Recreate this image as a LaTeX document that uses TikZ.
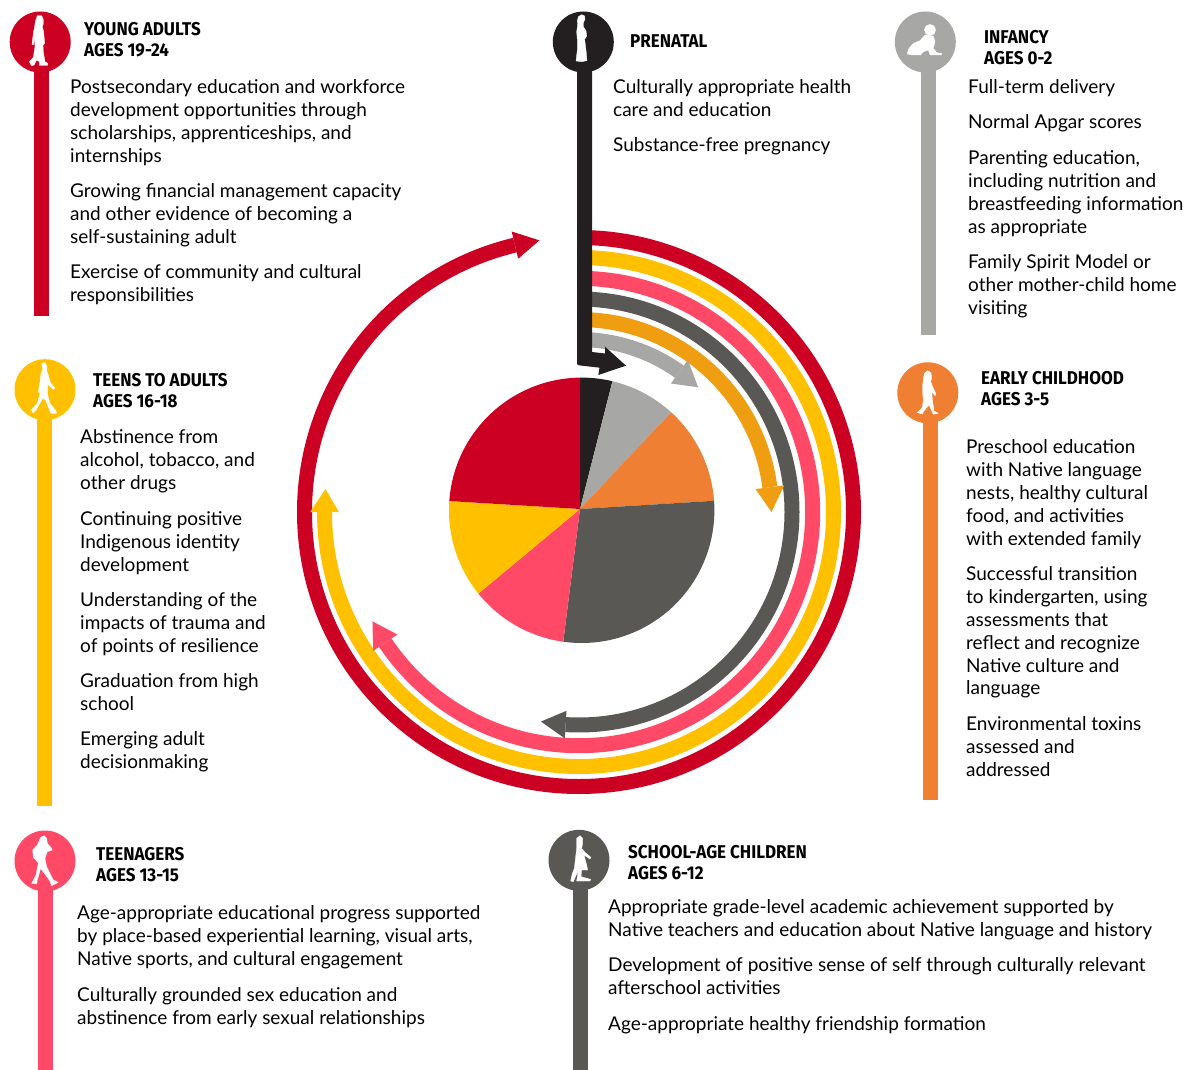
\documentclass[tikz,border=0pt]{standalone}
\usepackage{fontspec}
\setmainfont{Lato}
\newfontfamily\bodyf{Lato}
\newfontfamily\headf[FakeStretch=0.92]{Fira Sans Bold}
\definecolor{cred}{HTML}{CC0022}
\definecolor{cblack}{HTML}{231F20}
\definecolor{cgray}{HTML}{A7A7A5}
\definecolor{corange}{HTML}{EE7F33}
\definecolor{cdark}{HTML}{595855}
\definecolor{camber}{HTML}{EF9E12}
\definecolor{cyellow}{HTML}{FFC000}
\definecolor{cpink}{HTML}{FF4966}
\tikzset{
  bodyt/.style={anchor=north west,inner sep=0pt,align=left,font=\bodyf\fontsize{19}{22.8}\selectfont,text=black},
  headt/.style={anchor=north west,inner sep=0pt,align=left,font=\headf\fontsize{18.5}{21}\selectfont,text=black},
  pincircle/.style={circle,fill=#1,inner sep=0pt,minimum size=61pt},
  stem/.style={draw=#1,line width=15pt},
  silh/.style={fill=white,draw=white,line width=0.3pt,line join=round},
}
\newcommand\bodyat[4]{\node[bodyt] (#1) at (#2,{-(#3-9.2)}) {\strut #4};}
\newcommand\headat[4]{\node[headt] (#1) at (#2,{-(#3-8.5)}) {\rule{0pt}{15pt}#4};}
\newcommand\ringarrow[6]{%
  \draw[#1,line width=15pt] ([shift={(#3:#2)}]c) arc[start angle=#3,end angle=#4,radius=#2];
  \fill[#1] ([shift={(#4:#2+#6)}]c) -- ([shift={(#5:#2)}]c) -- ([shift={(#4:#2-#6)}]c) -- cycle;
}
\newcommand\pieslice[3]{\fill[#1] (pa) -- ([shift={(#2:132.7)}]pc) arc[start angle=#2,end angle=#3,radius=132.7] -- cycle;}
\begin{document}
\begin{tikzpicture}[x=1pt,y=1pt]
\useasboundingbox (0,0) rectangle (1184,-1070);
\coordinate (c) at (579,-512);
\coordinate (pc) at (581.7,-510.3);
\coordinate (pa) at (580,-509);
% rings
\ringarrow{cred}{274.5}{90}{-256.5}{-261.7}{14}
\ringarrow{cyellow}{254.5}{90}{-180}{-185.2}{14.3}
\ringarrow{cpink}{233.7}{90}{-146}{-152.1}{14.6}
\ringarrow{cdark}{213}{90}{-93.6}{-100.3}{13.8}
\ringarrow{camber}{192.5}{90}{7.4}{0}{14.5}
\ringarrow{cgray}{172.5}{90}{54.4}{46.3}{14.5}
% pie
\pieslice{cblack}{90.7}{76.6}
\pieslice{cgray}{76.6}{47.6}
\pieslice{corange}{47.6}{4.1}
\pieslice{cdark}{4.1}{-98}
\pieslice{cpink}{-98}{-141.1}
\pieslice{cyellow}{-141.1}{-184}
\pieslice{cred}{-184}{-269.3}
% stems
\coordinate (redTop) at (41.3,-42); \coordinate (redEnd) at (41.3,-316);
\coordinate (grayTop) at (928.3,-42); \coordinate (grayEnd) at (928.3,-335);
\coordinate (yelTop) at (44.5,-390); \coordinate (yelEnd) at (44.5,-806);
\coordinate (oraTop) at (930.5,-393); \coordinate (oraEnd) at (930.5,-800);
\coordinate (pnkTop) at (45.5,-861); \coordinate (pnkEnd) at (45.5,-1070);
\coordinate (drkTop) at (580.5,-860); \coordinate (drkEnd) at (580.5,-1070);
\draw[stem=cred] (redTop) -- (redEnd);
\draw[stem=cgray] (grayTop) -- (grayEnd);
\draw[stem=cyellow] (yelTop) -- (yelEnd);
\draw[stem=corange] (oraTop) -- (oraEnd);
\draw[stem=cpink] (pnkTop) -- (pnkEnd);
\draw[stem=cdark] (drkTop) -- (drkEnd);
\fill[cblack] (577,-42) -- (592,-42) -- (592,-352) -- (605,-353.5) -- (605,-346.7) -- (626,-365.7) -- (598.3,-375) -- (599.5,-367.7) -- (578.7,-365.3) -- (577,-364) -- cycle;
% pins
\node[pincircle=cred] (pinRed) at (40.2,-42) {};
\node[pincircle=cblack] (pinBlack) at (583.3,-42) {};
\node[pincircle=cgray] (pinGray) at (925.3,-42) {};
\node[pincircle=cyellow] (pinYellow) at (45,-389.7) {};
\node[pincircle=corange] (pinOrange) at (927.8,-392.8) {};
\node[pincircle=cpink] (pinPink) at (45,-861) {};
\node[pincircle=cdark] (pinDark) at (579,-860.3) {};
% silhouettes (zoom-crop coordinates)
\begin{scope}[shift={(0,0)},x=0.3333pt,y=-0.3333pt]
\fill[silh] (112,47)--(125,47)--(130,58)--(130,72)--(127,80)--(131,95)--(134,130)--(130,135)--(128,115)--(130,155)--(135,185)--(143,190)--(143,196)--(118,196)--(118,185)--(110,180)--(102,195)--(95,198)--(88,185)--(100,172)--(105,140)--(103,110)--(100,135)--(96,133)--(100,100)--(104,80)--(106,65)--cycle;
\end{scope}
\begin{scope}[shift={(540,0)},x=0.3333pt,y=-0.3333pt]
\fill[silh] (115,50)--(125,44)--(134,48)--(135,58)--(130,68)--(130,80)--(138,92)--(140,108)--(134,118)--(138,150)--(141,182)--(125,185)--(108,183)--(112,150)--(112,120)--(110,95)--(113,75)--(112,62)--cycle;
\end{scope}
\begin{scope}[shift={(880,0)},x=0.3333pt,y=-0.3333pt]
\fill[silh] (150,90) circle[radius=17];
\fill[silh] (82,162)--(85,148)--(100,130)--(120,122)--(135,105)--(160,108)--(165,125)--(160,145)--(170,158)--(185,160)--(185,165)--(150,165)--(145,150)--(130,155)--(122,165)--(95,165)--cycle;
\end{scope}
\begin{scope}[shift={(0,-350)},x=0.3333pt,y=-0.3333pt]
\fill[silh] (125,40)--(135,38)--(141,50)--(140,62)--(145,75)--(150,95)--(165,115)--(160,118)--(143,103)--(143,135)--(150,160)--(168,183)--(170,190)--(152,190)--(137,150)--(128,145)--(108,180)--(100,190)--(94,180)--(112,160)--(120,130)--(115,125)--(120,95)--(123,70)--(128,60)--cycle;
\end{scope}
\begin{scope}[shift={(885,-350)},x=0.3333pt,y=-0.3333pt]
\fill[silh] (118,70)--(128,62)--(138,68)--(140,85)--(137,95)--(143,110)--(153,132)--(150,137)--(140,125)--(143,155)--(147,183)--(160,190)--(145,193)--(132,165)--(115,185)--(113,192)--(97,188)--(112,172)--(115,150)--(113,130)--(113,105)--(115,90)--cycle;
\end{scope}
\begin{scope}[shift={(0,-820)},x=0.3333pt,y=-0.3333pt]
\fill[silh] (122,52)--(132,47)--(140,55)--(142,70)--(155,85)--(157,90)--(142,95)--(135,115)--(140,140)--(160,180)--(175,187)--(155,197)--(148,180)--(122,145)--(112,180)--(110,192)--(95,190)--(108,165)--(115,130)--(112,125)--(100,112)--(98,90)--(112,75)--cycle;
\end{scope}
\begin{scope}[shift={(535,-820)},x=0.3333pt,y=-0.3333pt]
\fill[silh] (125,55)--(135,47)--(143,55)--(143,70)--(140,85)--(150,97)--(168,112)--(165,117)--(147,105)--(155,135)--(158,150)--(140,150)--(138,170)--(167,178)--(165,183)--(125,183)--(130,150)--(115,185)--(107,183)--(112,160)--(118,145)--(122,110)--(125,85)--(125,70)--cycle;
\end{scope}
% headings
\headat{hYoung}{84}{29}{YOUNG ADULTS\\AGES 19-24}
\headat{hPrenatal}{630}{41}{PRENATAL}
\headat{hInfancy}{984}{37}{INFANCY\\AGES 0-2}
\headat{hTeensA}{93}{380}{TEENS TO ADULTS\\AGES 16-18}
\headat{hEarly}{981}{378}{EARLY CHILDHOOD\\AGES 3-5}
\headat{hTeen}{96}{854}{TEENAGERS\\AGES 13-15}
\headat{hSchool}{628}{852}{SCHOOL-AGE CHILDREN\\AGES 6-12}
% body
\bodyat{y1}{70}{87}{Postsecondary education and workforce\\development opportunities through\\scholarships, apprenticeships, and\\internships}
\bodyat{y2}{70}{191}{Growing financial management capacity\\and other evidence of becoming a\\self-sustaining adult}
\bodyat{y3}{70}{272}{Exercise of community and cultural\\responsibilities}
\bodyat{p1}{613}{87}{Culturally appropriate health\\care and education}
\bodyat{p2}{613}{145}{Substance-free pregnancy}
\bodyat{i1}{968}{87}{Full-term delivery}
\bodyat{i2}{968}{122}{Normal Apgar scores}
\bodyat{i3}{968}{158}{Parenting education,\\including nutrition and\\breastfeeding information\\as appropriate}
\bodyat{i4}{968}{262}{Family Spirit Model or\\other mother-child home\\visiting}
\bodyat{t1}{80}{437}{Abstinence from\\alcohol, tobacco, and\\other drugs}
\bodyat{t2}{80}{519}{Continuing positive\\Indigenous identity\\development}
\bodyat{t3}{80}{600}{Understanding of the\\impacts of trauma and\\of points of resilience}
\bodyat{t4}{80}{681}{Graduation from high\\school}
\bodyat{t5}{80}{739}{Emerging adult\\decisionmaking}
\bodyat{e1}{966}{447}{Preschool education\\with Native language\\nests, healthy cultural\\food, and activities\\with extended family}
\bodyat{e2}{966}{574}{Successful transition\\to kindergarten, using\\assessments that\\reflect and recognize\\Native culture and\\language}
\bodyat{e3}{966}{724}{Environmental toxins\\assessed and\\addressed}
\bodyat{n1}{77}{913}{Age-appropriate educational progress supported\\by place-based experiential learning, visual arts,\\Native sports, and cultural engagement}
\bodyat{n2}{77}{995}{Culturally grounded sex education and\\abstinence from early sexual relationships}
\bodyat{s1}{608}{907}{Appropriate grade-level academic achievement supported by\\Native teachers and education about Native language and history}
\bodyat{s2}{608}{965}{Development of positive sense of self through culturally relevant\\afterschool activities}
\bodyat{s3}{608}{1024}{Age-appropriate healthy friendship formation}
\end{tikzpicture}
\end{document}
